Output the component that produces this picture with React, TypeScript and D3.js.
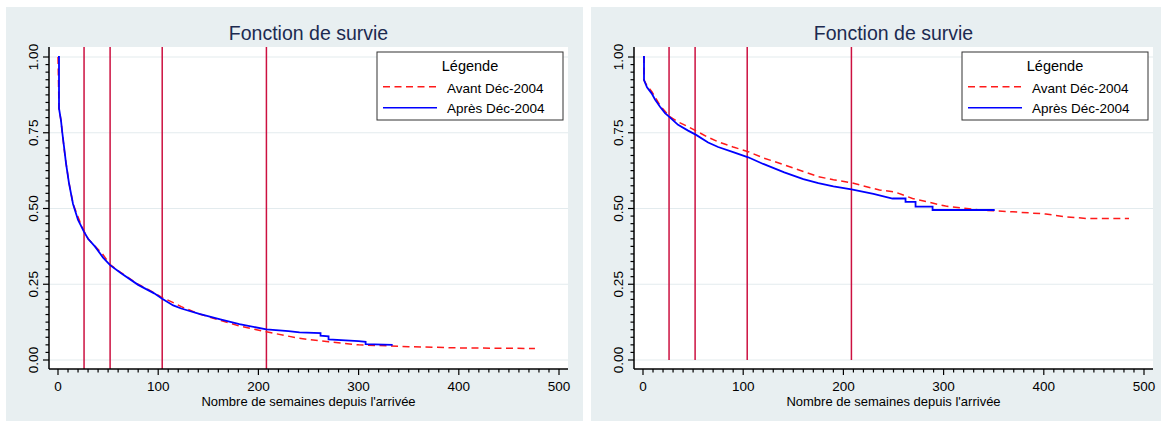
import * as d3 from 'd3'

// Kaplan-Meier estimates (weeks, survival)
const leftAvantT = [0, 1, 3, 4.3, 6, 8, 11, 15, 22, 26, 30, 37, 44, 52, 63, 80, 96, 104, 116, 123, 141, 161, 181, 208, 240, 270, 300, 350, 400, 476]
const leftAvantS = [1, 0.83, 0.79, 0.75, 0.7, 0.65, 0.585, 0.515, 0.455, 0.425, 0.4, 0.375, 0.352, 0.315, 0.288, 0.25, 0.222, 0.206, 0.188, 0.176, 0.152, 0.132, 0.112, 0.093, 0.072, 0.06, 0.05, 0.044, 0.04, 0.038]

const leftApresT = [0, 1, 1, 3, 4.3, 6, 8, 11, 15, 20, 26, 30, 37, 45, 52, 63, 80, 96, 104, 115, 123, 141, 161, 181, 208, 230, 241, 262, 262, 270, 270, 300, 307, 307, 334]
const leftApresS = [1, 1, 0.83, 0.79, 0.75, 0.704, 0.649, 0.583, 0.515, 0.462, 0.423, 0.4, 0.374, 0.338, 0.313, 0.286, 0.248, 0.22, 0.202, 0.18, 0.17, 0.152, 0.135, 0.118, 0.101, 0.095, 0.091, 0.089, 0.08, 0.078, 0.068, 0.062, 0.06, 0.052, 0.05]

const rightAvantT = [0, 1, 1, 4, 9, 17, 26, 35, 45, 53, 65, 75, 90, 105, 120, 141, 160, 175, 190, 208, 236, 251, 269, 302, 336, 369, 402, 420, 443, 485]
const rightAvantS = [1, 1, 0.924, 0.905, 0.885, 0.84, 0.805, 0.786, 0.77, 0.756, 0.735, 0.72, 0.703, 0.6875, 0.667, 0.644, 0.622, 0.605, 0.595, 0.585, 0.561, 0.555, 0.533, 0.508, 0.495, 0.489, 0.482, 0.473, 0.467, 0.467]

const rightApresT = [0, 1, 1, 4, 8.6, 12, 17, 22, 26, 35, 45, 53, 65, 75, 90, 105, 120, 141, 160, 175, 190, 208, 230, 249, 262, 262, 272, 272, 289, 289, 351]
const rightApresS = [1, 1, 0.924, 0.9, 0.88, 0.86, 0.836, 0.815, 0.803, 0.776, 0.757, 0.743, 0.718, 0.703, 0.686, 0.669, 0.647, 0.619, 0.597, 0.584, 0.573, 0.563, 0.548, 0.533, 0.533, 0.522, 0.522, 0.506, 0.506, 0.495, 0.495]

// 6 months, 1, 2 and 4 years
const markers = [26, 52, 104, 208]
const xTicks = [0, 100, 200, 300, 400, 500]
const yTicks = [0, 0.25, 0.5, 0.75, 1]
const legendLabels = ['Avant Déc-2004', 'Après Déc-2004']

const FONT = '"Liberation Sans", Arial, Helvetica, sans-serif'
const RED = '#ff1a1a'
const BLUE = '#0000ff'
const MARK = '#cc1040'

const toPts = (t: number[], s: number[]) => t.map((v, i) => [v, s[i]] as [number, number])

const Panel = ({ dx, avant, apres, markerToAxis }: any) => {
  const plot = { left: 49 + dx, right: 568 + dx, top: 47, bottom: 369 }
  const x = d3.scaleLinear().domain([0, 500]).range([58 + dx, 559 + dx])
  const y = d3.scaleLinear().domain([0, 1]).range([360, 57])
  const line = d3.line<[number, number]>().x(d => x(d[0])).y(d => y(d[1]))
  const minorX = d3.range(0, 501, 10)
  const minorY = d3.range(0, 1.0001, 0.025)
  const cx = (plot.left + plot.right) / 2
  const lx = plot.right - 191

  return (
    <g fontFamily={FONT}>
      <rect x={dx + 6} y={7} width={577} height={414} fill="#e8eff1" />
      <rect x={plot.left} y={plot.top} width={plot.right - plot.left} height={plot.bottom - plot.top} fill="#fff" />
      <text x={cx} y={40} textAnchor="middle" fontSize={19.5} fill="#1c2a50">Fonction de survie</text>

      {yTicks.map(v => (
        <line key={'g' + v} x1={plot.left} x2={plot.right} y1={y(v)} y2={y(v)} stroke="#e3ebee" strokeWidth={1.2} />
      ))}

      {markers.map(m => (
        <line key={'m' + m} x1={x(m)} x2={x(m)} y1={plot.top} y2={markerToAxis ? plot.bottom : y(0)} stroke={MARK} strokeWidth={1.5} />
      ))}

      <path d={line(toPts(avant[0], avant[1])) || ''} fill="none" stroke={RED} strokeWidth={1.5} strokeDasharray="7,4.5" />
      <path d={line(toPts(apres[0], apres[1])) || ''} fill="none" stroke={BLUE} strokeWidth={1.8} />

      {/* axes */}
      <line x1={plot.left} x2={plot.left} y1={plot.top} y2={plot.bottom} stroke="#000" strokeWidth={1.5} />
      <line x1={plot.left} x2={plot.right} y1={plot.bottom} y2={plot.bottom} stroke="#000" strokeWidth={1.5} />
      {minorX.map(v => (
        <line key={'mx' + v} x1={x(v)} x2={x(v)} y1={plot.bottom} y2={plot.bottom + (v % 100 === 0 ? 6 : 3.5)} stroke="#000" strokeWidth={1.2} />
      ))}
      {minorY.map((v, i) => (
        <line key={'my' + i} x1={plot.left - (i % 10 === 0 ? 6 : 3.5)} x2={plot.left} y1={y(v)} y2={y(v)} stroke="#000" strokeWidth={1.2} />
      ))}
      {xTicks.map(v => (
        <text key={'xt' + v} x={x(v)} y={390.5} textAnchor="middle" fontSize={13.5}>{v}</text>
      ))}
      {yTicks.map(v => (
        <text key={'yt' + v} transform={`translate(${dx + 38},${y(v)}) rotate(-90)`} textAnchor="middle" fontSize={13.5}>{v.toFixed(2)}</text>
      ))}
      <text x={cx} y={406} textAnchor="middle" fontSize={13}>Nombre de semaines depuis l'arrivée</text>

      {/* legend */}
      <rect x={lx} y={52} width={186} height={68} fill="#fff" stroke="#333" strokeWidth={1} />
      <text x={lx + 93} y={71} textAnchor="middle" fontSize={14.5}>Légende</text>
      <line x1={lx + 6} x2={lx + 60} y1={86.7} y2={86.7} stroke={RED} strokeWidth={1.5} strokeDasharray="7,4.5" />
      <line x1={lx + 6} x2={lx + 60} y1={107.7} y2={107.7} stroke={BLUE} strokeWidth={1.5} />
      <text x={lx + 70} y={93} fontSize={13.5}>{legendLabels[0]}</text>
      <text x={lx + 70} y={112.5} fontSize={13.5}>{legendLabels[1]}</text>
    </g>
  )
}

export default function App() {
  return (
    <svg width={1161} height={423} style={{ position: 'absolute', left: 0, top: 0, background: '#fff' }}>
      <Panel dx={0} avant={[leftAvantT, leftAvantS]} apres={[leftApresT, leftApresS]} markerToAxis={true} />
      <Panel dx={585} avant={[rightAvantT, rightAvantS]} apres={[rightApresT, rightApresS]} markerToAxis={false} />
    </svg>
  )
}
